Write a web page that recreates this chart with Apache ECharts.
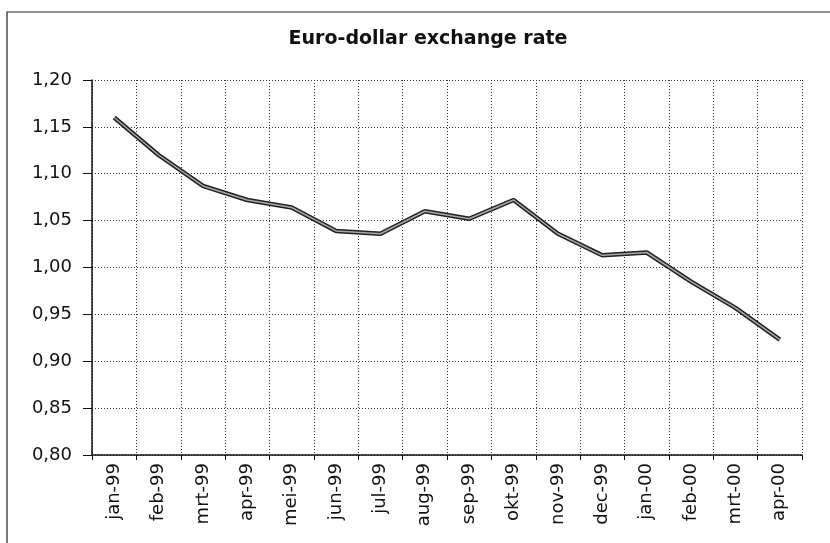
<!DOCTYPE html>
<html>
<head>
<meta charset="utf-8">
<style>html,body{margin:0;padding:0;background:#fff;}#c{width:830px;height:543px;}</style>
<script src="https://cdn.jsdelivr.net/npm/echarts@6/dist/echarts.min.js"></script>
</head>
<body>
<div id="c"></div>
<script>
const titleText = 'Euro-dollar exchange rate';
const categories = ['jan-99','feb-99','mrt-99','apr-99','mei-99','jun-99','jul-99','aug-99','sep-99','okt-99','nov-99','dec-99','jan-00','feb-00','mrt-00','apr-00'];
const rates = [1.160, 1.120, 1.087, 1.072, 1.064, 1.039, 1.036, 1.060, 1.052, 1.072, 1.036, 1.013, 1.016, 0.985, 0.957, 0.923];
const yMin = 0.80, yMax = 1.20, yStep = 0.05;

const chart = echarts.init(document.getElementById('c'), null, {renderer: 'canvas'});
const font = 'DejaVu Sans';
chart.setOption({
  animation: false,
  backgroundColor: '#fff',
  title: {
    text: titleText, left: 423, top: 25, textAlign: 'center',
    textStyle: {fontFamily: font, fontWeight: 'bold', fontSize: 19, color: '#111'}
  },
  graphic: [{
    type: 'rect', shape: {x: 7, y: 12, width: 840, height: 560},
    style: {fill: 'none', stroke: '#222', lineWidth: 1.2}, silent: true, z: 100
  }],
  grid: {left: 92, right: 28, top: 80, bottom: 88},
  xAxis: {
    type: 'category', data: categories, boundaryGap: true,
    axisLine: {lineStyle: {color: '#111', width: 1.5}},
    axisTick: {show: true, length: 5, lineStyle: {color: '#111'}},
    axisLabel: {rotate: 90, margin: 8, interval: 0, fontFamily: font, fontSize: 18, color: '#111'},
    splitLine: {show: true, interval: 0, lineStyle: {color: '#333', type: [1, 2], width: 1}}
  },
  yAxis: {
    type: 'value', min: yMin, max: yMax, interval: yStep,
    axisLine: {show: true, lineStyle: {color: '#111', width: 1.5}},
    axisTick: {show: true, length: 9, lineStyle: {color: '#111'}},
    axisLabel: {margin: 20, fontFamily: font, fontSize: 18, color: '#111',
      formatter: v => v.toFixed(2).replace('.', ',')},
    splitLine: {show: true, lineStyle: {color: '#333', type: [1, 2], width: 1}}
  },
  series: [
    {type: 'line', data: rates, symbol: 'none', silent: true,
     lineStyle: {color: '#222', width: 4.5}, z: 2},
    {type: 'line', data: rates, symbol: 'none', silent: true,
     lineStyle: {color: '#a8a8a8', width: 1.5}, z: 3}
  ]
});
</script>
</body>
</html>
